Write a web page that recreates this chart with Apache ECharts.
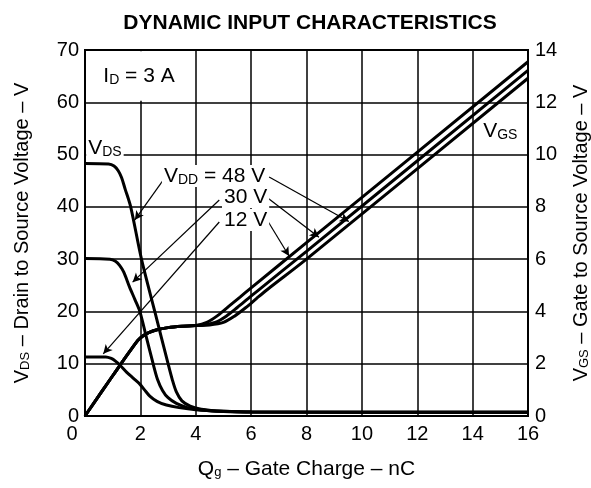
<!DOCTYPE html>
<html>
<head>
<meta charset="utf-8">
<script src="https://cdn.jsdelivr.net/npm/echarts@6/dist/echarts.min.js"></script>
<style>
html,body{margin:0;padding:0;background:#fff;}
#c{width:591px;height:488px;}
</style>
</head>
<body>
<div id="c"></div>
<script>
// ---- data (Q in nC) ----
const qTicks = [0, 2, 4, 6, 8, 10, 12, 14, 16];
const vdsTicks = [0, 10, 20, 30, 40, 50, 60, 70];
const vgsTicks = [0, 2, 4, 6, 8, 10, 12, 14];

// V_DS curves (left axis, V)
const vds48 = [[0,48.3],[0.85,48.2],[1.05,47.8],[1.2,46.9],[1.32,45.6],[1.45,43.4],[1.65,40],[2.04,30],[2.52,20],[3.0,10],[3.15,7],[3.3,4.6],[3.5,2.9],[3.8,1.9],[4.2,1.3],[5,0.9],[6,0.75],[16,0.7]];
const vds30 = [[0,30.1],[0.9,30],[1.1,29.6],[1.25,28.8],[1.4,27.5],[1.6,24.8],[1.8,22.3],[1.98,20],[2.22,15],[2.46,10],[2.62,7],[2.8,4.9],[3.0,3.5],[3.3,2.4],[3.7,1.6],[4.2,1.15],[5,0.85],[6,0.75],[16,0.7]];
const vds12 = [[0,11.3],[0.75,11.3],[0.95,11.0],[1.1,10.5],[1.26,9.75],[1.5,8.4],[1.75,7.2],[1.98,6.1],[2.15,5.0],[2.34,3.8],[2.6,2.8],[2.94,2.1],[3.4,1.6],[4,1.2],[5,0.9],[6,0.75],[16,0.7]];

// V_GS curves (right axis, V)
const vgsRise = [[0,0],[1,1.54],[1.9,2.88],[2.1,3.07],[2.3,3.19],[2.6,3.3],[3.0,3.38],[3.5,3.43],[4,3.46]];
const vgs12Tail = [[4.4,3.58],[4.8,3.85],[5.2,4.2],[5.6,4.55],[6,4.9],[8,6.63],[16,13.55]];
const vgs30Tail = [[4.2,3.47],[4.7,3.58],[5.1,3.82],[5.5,4.15],[5.9,4.5],[6.2,4.76],[8,6.3],[16,13.22]];
const vgs48Tail = [[4.5,3.48],[5.0,3.58],[5.4,3.82],[5.8,4.14],[6.2,4.5],[6.6,4.85],[8,6.0],[16,12.92]];

// annotation arrows [fromQ, fromV, toQ, toV] in left-axis units
const arrows = [
  [2.85,45.3, 1.8,37.5],
  [4.85,41.3, 1.72,25.6],
  [4.85,37.1, 0.66,11.9],
  [6.65,45.7, 9.53,37.2],
  [6.6,41.7, 8.45,34.2],
  [6.6,37.3, 7.37,30.6]
];
// annotation texts [Q, V, text]
const notes = [
  [4.68,45.9,'{v|V}{s|DD}{v| = 48 V}'],
  [5.8,41.9,'{v|30 V}'],
  [5.8,37.5,'{v|12 V}'],
  [0.72,51.2,'{v|V}{s|DS}'],
  [15.0,54.5,'{v|V}{s|GS}'],
  [1.95,65.0,'{v|I}{s|D}{v| = 3 A}']
];
const idBox = [[0.08,60.3],[3.92,69.75]];

const FONT = '"Liberation Sans", Arial, Helvetica, sans-serif';
const rich = {
  v:{fontFamily:FONT,fontSize:21,color:'#000',lineHeight:22},
  s:{fontFamily:FONT,fontSize:14,color:'#000',lineHeight:22,verticalAlign:'bottom',padding:[6,0,0,0]}
};
const nameRich = {
  v:{fontFamily:FONT,fontSize:20,color:'#000',lineHeight:22},
  s:{fontFamily:FONT,fontSize:13,color:'#000',lineHeight:22,padding:[6,0,0,0]}
};

const chart = echarts.init(document.getElementById('c'), null, {renderer:'canvas'});
const lineS = (data, yi) => ({
  type:'line', data, yAxisIndex:yi, showSymbol:false, symbol:'none',
  smooth:0.3,
  lineStyle:{color:'#000', width:3}, silent:true, animation:false
});

const s48 = lineS(vds48, 0);
s48.markArea = {silent:true, itemStyle:{color:'#fff'}, data:[[{coord:idBox[0]},{coord:idBox[1]}]]};
s48.markLine = {
  silent:true, symbol:['none','arrow'], symbolSize:[7,9],
  lineStyle:{color:'#000', width:1.2, type:'solid'}, label:{show:false},
  data: arrows.map(a => [{coord:[a[0],a[1]]},{coord:[a[2],a[3]]}])
};
s48.markPoint = {
  silent:true, symbol:'rect', symbolSize:1, itemStyle:{color:'rgba(0,0,0,0)'},
  data: notes.map(n => ({coord:[n[0],n[1]], label:{show:true, position:'inside', formatter:n[2], rich, backgroundColor:'#fff', padding:[0,2,0,2]}}))
};

chart.setOption({
  animation:false,
  backgroundColor:'#fff',
  title:{text:'DYNAMIC INPUT CHARACTERISTICS', left:305, top:8, textAlign:'center',
    textStyle:{fontFamily:FONT, fontSize:21, fontWeight:'bold', color:'#000'}},
  grid:{left:85, right:63, top:50, bottom:72, show:true, borderColor:'#000', borderWidth:2, backgroundColor:'transparent', outerBoundsMode:'none', containLabel:false},
  xAxis:{type:'value', min:0, max:16, interval:2,
    name:'{v|Q}{s|g}{v| – Gate Charge – nC}', nameLocation:'middle', nameGap:42,
    nameTextStyle:{rich:{v:{fontFamily:FONT,fontSize:21,color:'#000',lineHeight:22},s:{fontFamily:FONT,fontSize:13,color:'#000',lineHeight:22,padding:[6,0,0,0]}}},
    axisLine:{show:true, lineStyle:{color:'#000', width:2}}, axisTick:{show:false},
    axisLabel:{margin:8, fontFamily:FONT, fontSize:20, color:'#000',
      formatter:v => qTicks.includes(v) ? (v===0 ? '{z|0}' : String(v)) : '',
      rich:{z:{fontFamily:FONT,fontSize:20,color:'#000',padding:[0,26,0,0]}}},
    splitLine:{show:true, lineStyle:{color:'#000', width:1.5}}},
  yAxis:[
    {type:'value', min:0, max:70, interval:10, position:'left',
     name:'{v|V}{s|DS}{v| – Drain to Source Voltage – V}', nameLocation:'middle', nameGap:52, nameRotate:90,
     nameTextStyle:{rich:nameRich},
     axisLine:{show:true, lineStyle:{color:'#000', width:2}}, axisTick:{show:false},
     axisLabel:{margin:6, fontFamily:FONT, fontSize:20, color:'#000', formatter:v => vdsTicks.includes(v)? String(v):''},
     splitLine:{show:true, lineStyle:{color:'#000', width:1.5}}},
    {type:'value', min:0, max:14, interval:2, position:'right',
     name:'{v|V}{s|GS}{v| – Gate to Source Voltage – V}', nameLocation:'middle', nameGap:42, nameRotate:90,
     nameTextStyle:{rich:nameRich},
     axisLine:{show:true, lineStyle:{color:'#000', width:2}}, axisTick:{show:false},
     axisLabel:{margin:7, fontFamily:FONT, fontSize:20, color:'#000', formatter:v => vgsTicks.includes(v)? String(v):''},
     splitLine:{show:false}}
  ],
  series:[
    s48,
    lineS(vds30, 0),
    lineS(vds12, 0),
    lineS(vgsRise.concat(vgs12Tail), 1),
    lineS(vgsRise.concat(vgs30Tail), 1),
    lineS(vgsRise.concat(vgs48Tail), 1)
  ]
});
</script>
</body>
</html>
